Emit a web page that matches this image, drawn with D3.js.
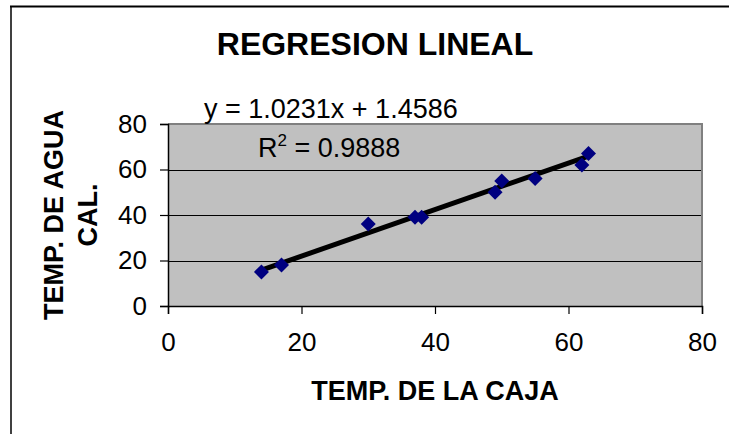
<!DOCTYPE html>
<html>
<head>
<meta charset="utf-8">
<script src="https://cdn.jsdelivr.net/npm/d3@7"></script>
<style>
html,body{margin:0;padding:0;background:#fff;}
svg{display:block;}
text{font-family:"Liberation Sans",Arial,sans-serif;fill:#000;}
</style>
</head>
<body>
<svg id="chart" width="729" height="434"></svg>
<script>
// ---- data ----
const tempCaja = [14, 17, 30, 37, 38, 49, 50, 55, 62, 63];
const tempAgua = [15, 18, 36, 39, 39, 50, 55, 56, 62, 67];
const xTicks = [0, 20, 40, 60, 80];
const yTicks = [0, 20, 40, 60, 80];
const trendSlope = 1.0231;
const trendIntercept = 1.4586;
const trendEquation = "y = 1.0231x + 1.4586";
const rSquaredText = " = 0.9888";
const chartTitle = "REGRESION LINEAL";
const xTitle = "TEMP. DE LA CAJA";
const yTitleLines = ["TEMP. DE AGUA", "CAL."];

const svg = d3.select("#chart");
const W = 729, H = 434;
const plot = {left: 168, right: 702, top: 124, bottom: 306};

// outer chart frame
svg.append("line").attr("x1", 11).attr("x2", 11).attr("y1", 6).attr("y2", H)
  .attr("stroke", "#404040").attr("stroke-width", 2);
svg.append("line").attr("x1", 10).attr("x2", W).attr("y1", 6.5).attr("y2", 6.5)
  .attr("stroke", "#000").attr("stroke-width", 2);

const x = d3.scaleLinear().domain([0, 80]).range([plot.left, plot.right]);
const y = d3.scaleLinear().domain([0, 80]).range([plot.bottom, plot.top]);

// plot area
svg.append("rect").attr("x", x(0)).attr("y", y(80))
  .attr("width", x(80) - x(0)).attr("height", y(0) - y(80))
  .attr("fill", "#c0c0c0");

// gridlines
svg.append("g").selectAll("line").data(yTicks.filter(d => d > 0 && d < 80)).join("line")
  .attr("x1", x(0)).attr("x2", x(80))
  .attr("y1", d => Math.round(y(d)) + 0.5).attr("y2", d => Math.round(y(d)) + 0.5)
  .attr("stroke", "#000").attr("stroke-width", 1);

// top & right gray border
svg.append("path")
  .attr("d", `M${x(0)},${y(80)}H${x(80)}V${y(0)}`)
  .attr("fill", "none").attr("stroke", "#808080").attr("stroke-width", 2);

// axes
const xAxis = d3.axisBottom(x).tickValues(xTicks).tickSize(8).tickPadding(19).tickFormat(d3.format("d"));
const yAxis = d3.axisLeft(y).tickValues(yTicks).tickSize(8).tickPadding(13).tickFormat(d3.format("d"));

const gx = svg.append("g").attr("transform", `translate(0,${y(0)})`).call(xAxis);
const gy = svg.append("g").attr("transform", `translate(${x(0)},0)`).call(yAxis);
[gx, gy].forEach(g => {
  g.select(".domain").attr("stroke", "#000").attr("stroke-width", 1.5);
  g.selectAll(".tick line").attr("stroke", "#000").attr("stroke-width", 1.2);
  g.selectAll(".tick text").style("font-family", "'Liberation Sans',Arial,sans-serif")
    .style("font-size", "26px").attr("fill", "#000");
});

// trendline
const xMin = d3.min(tempCaja), xMax = d3.max(tempCaja);
svg.append("line")
  .attr("x1", x(xMin)).attr("y1", y(trendSlope * xMin + trendIntercept))
  .attr("x2", x(xMax)).attr("y2", y(trendSlope * xMax + trendIntercept))
  .attr("stroke", "#000").attr("stroke-width", 5);

// markers
const r = 7.5;
svg.append("g").selectAll("path").data(tempCaja.map((d, i) => [d, tempAgua[i]])).join("path")
  .attr("d", d => {
    const cx = x(d[0]), cy = y(d[1]);
    return `M${cx},${cy - r}L${cx + r},${cy}L${cx},${cy + r}L${cx - r},${cy}Z`;
  })
  .attr("fill", "#000080");

// texts
svg.append("text").attr("x", 375).attr("y", 55).attr("text-anchor", "middle")
  .style("font-size", "32px").style("font-weight", "bold").text(chartTitle);

svg.append("text").attr("x", 204).attr("y", 118)
  .style("font-size", "27px").text(trendEquation);

const r2 = svg.append("text").attr("x", 258).attr("y", 157).style("font-size", "27px");
r2.append("tspan").text("R");
r2.append("tspan").attr("dy", -11).style("font-size", "17px").text("2");
r2.append("tspan").attr("dy", 11).text(rSquaredText);

svg.append("text").attr("x", 435).attr("y", 400).attr("text-anchor", "middle")
  .style("font-size", "27px").style("font-weight", "bold").text(xTitle);

const yt = svg.append("g").attr("transform", "translate(0,215) rotate(-90)");
yt.append("text").attr("x", 0).attr("y", 63).attr("text-anchor", "middle")
  .style("font-size", "27px").style("font-weight", "bold").text(yTitleLines[0]);
yt.append("text").attr("x", 0).attr("y", 97).attr("text-anchor", "middle")
  .style("font-size", "27px").style("font-weight", "bold").text(yTitleLines[1]);
</script>
</body>
</html>
